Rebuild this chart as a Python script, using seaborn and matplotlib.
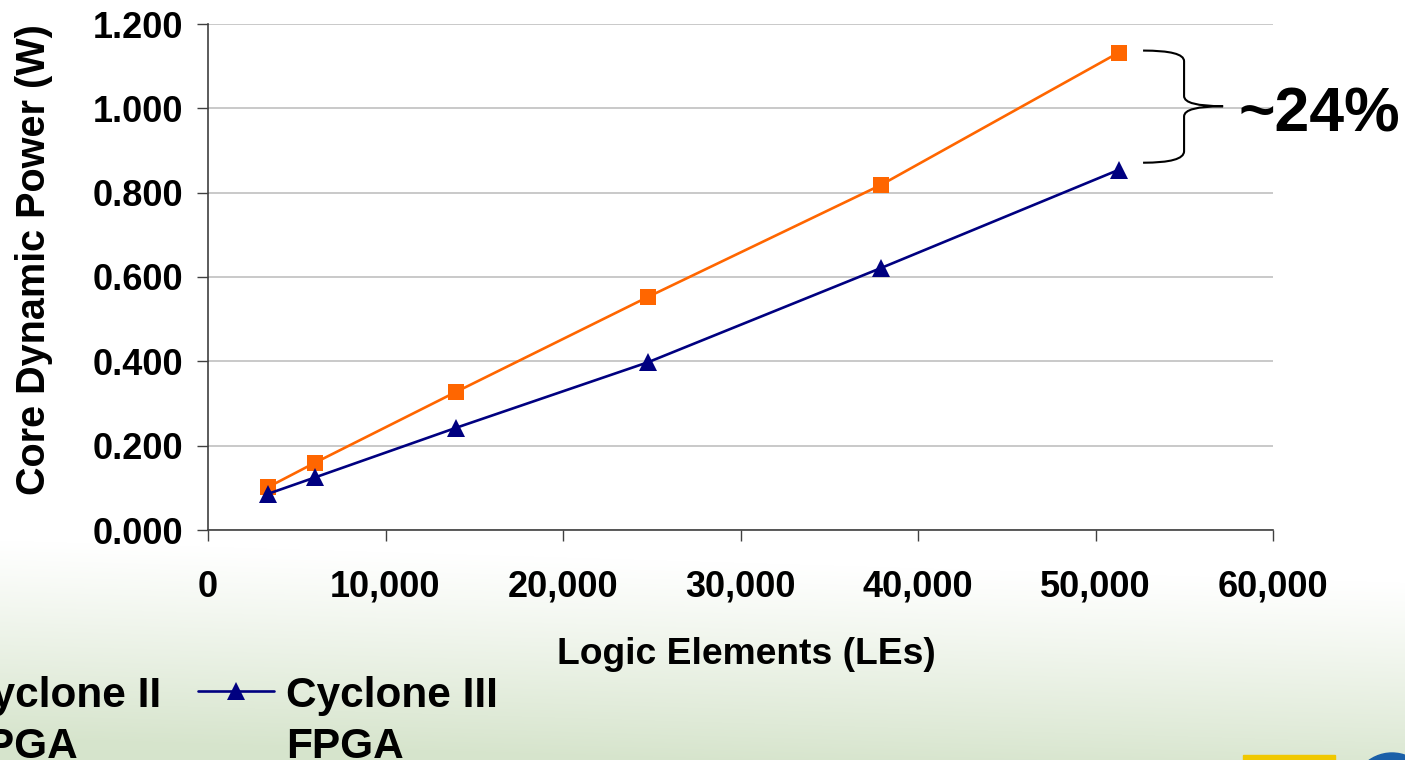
import numpy as np
import pandas as pd
import matplotlib
matplotlib.use("Agg")
import matplotlib.pyplot as plt
import seaborn as sns
from matplotlib.path import Path
from matplotlib.patches import PathPatch, Rectangle, Ellipse
from matplotlib.legend_handler import HandlerLine2D

# ---- data ----
logic_elements = [3400, 6050, 13950, 24800, 37900, 51300]
cyclone2_power = [0.102, 0.160, 0.327, 0.553, 0.818, 1.132]
cyclone3_power = [0.086, 0.125, 0.242, 0.398, 0.621, 0.854]
series_names = ["Cyclone II\nFPGA", "Cyclone III\nFPGA"]
x_ticks = [0, 10000, 20000, 30000, 40000, 50000, 60000]
y_ticks = [0.0, 0.2, 0.4, 0.6, 0.8, 1.0, 1.2]
annotation_text = "~24%"

sns.set_theme(style="white")
plt.rcParams["font.family"] = ["Liberation Sans", "DejaVu Sans"]
plt.rcParams["font.weight"] = "bold"
for k in ["text.color", "axes.labelcolor", "xtick.color", "ytick.color"]:
    plt.rcParams[k] = "black"

W, H = 1405, 760
fig = plt.figure(figsize=(W / 100, H / 100), dpi=100)

# background (slide gradient)
bg = fig.add_axes([0, 0, 1, 1], zorder=-10)
bg.set_xlim(0, W)
bg.set_ylim(H, 0)
bg.axis("off")
yy = np.arange(H)[:, None]
xx = np.arange(W)[None, :]
t = np.clip((yy - 540 - 0.03 * xx) / 200.0, 0, 1) ** 1.1
white = np.array([1.0, 1.0, 1.0])
green = np.array([0.84, 0.895, 0.80])
img = white[None, None, :] * (1 - t[..., None]) + green[None, None, :] * t[..., None]
img = np.broadcast_to(img, (H, W, 3))
bg.imshow(img, extent=[0, W, H, 0], aspect="auto")
bg.add_patch(Rectangle((1243, 755), 92, 8, color="#f0c800"))
bg.add_patch(Ellipse((1392, 798), 84, 90, color="#1a5fa8"))

# main axes
ax = fig.add_axes([208 / W, 1 - 530 / H, (1273 - 208) / W, (530 - 24) / H])
ax.set_facecolor("white")

df = pd.DataFrame({
    "LE": logic_elements * 2,
    "Power": cyclone2_power + cyclone3_power,
    "Series": [series_names[0]] * len(logic_elements) + [series_names[1]] * len(logic_elements),
})
palette = {series_names[0]: "#ff6600", series_names[1]: "#000080"}
markers = {series_names[0]: "s", series_names[1]: "^"}
sns.lineplot(data=df, x="LE", y="Power", hue="Series", style="Series",
             palette=palette, markers=markers, dashes=False, linewidth=1.9,
             markeredgewidth=0, ax=ax, legend=False, zorder=3)
lines = ax.get_lines()
for ln in lines:
    if ln.get_marker() == "s":
        ln.set_markersize(11.5)
    else:
        ln.set_markersize(13.5)
    ln.set_clip_on(False)

ax.set_xlim(0, 60000)
ax.set_ylim(0, 1.2)
ax.set_xticks(x_ticks)
ax.set_xticklabels([f"{v:,}" for v in x_ticks])
ax.set_yticks(y_ticks)
ax.set_yticklabels([f"{v:.3f}" for v in y_ticks])
ax.yaxis.grid(True, color="#c0c0c0", linewidth=1.2)
ax.xaxis.grid(False)
for s in ["top", "right"]:
    ax.spines[s].set_visible(False)
for s in ["left", "bottom"]:
    ax.spines[s].set_color("#404040")
    ax.spines[s].set_linewidth(1.2)
ax.tick_params(axis="y", direction="out", length=8, width=1, color="#404040",
               pad=10, labelsize=26, left=True, labelcolor="black")
ax.tick_params(axis="x", direction="out", length=8, width=1, color="#404040",
               pad=20.5, labelsize=26, bottom=True, labelcolor="black")
for lbl in ax.get_xticklabels() + ax.get_yticklabels():
    lbl.set_fontweight("bold")
ax.set_xlabel("Logic Elements (LEs)", fontsize=26.8, fontweight="bold",
              labelpad=23.5, color="black")
ax.xaxis.label.set_x(0.5056)
ax.set_ylabel("Core Dynamic Power (W)", fontsize=28.5, fontweight="bold",
              color="black")
ax.yaxis.set_label_coords(-0.146, 0.534)

# curly brace annotation
xa, xv, xt = 52680, 54990, 57190
verts = [(xa, 1.137), (xv, 1.137), (xv, 1.112),
         (xv, 1.029),
         (xv, 1.005), (xt, 1.005),
         (xv, 1.005), (xv, 0.981),
         (xv, 0.898),
         (xv, 0.871), (xa, 0.871)]
codes = [Path.MOVETO, Path.CURVE3, Path.CURVE3,
         Path.LINETO,
         Path.CURVE3, Path.CURVE3,
         Path.CURVE3, Path.CURVE3,
         Path.LINETO,
         Path.CURVE3, Path.CURVE3]
brace = PathPatch(Path(verts, codes), facecolor="none", edgecolor="black",
                  linewidth=1.5, clip_on=False, zorder=4)
ax.add_patch(brace)
ax.text(58030, 0.945, annotation_text, fontsize=45, fontweight="bold",
        ha="left", va="baseline", clip_on=False, color="black")


# legend handles aligned with the first text line
class FirstLineHandler(HandlerLine2D):
    def create_artists(self, legend, orig_handle, xdescent, ydescent,
                       width, height, fontsize, trans):
        arts = super().create_artists(legend, orig_handle, xdescent, ydescent,
                                      width, height, fontsize, trans)
        for a in arts:
            a.set_ydata(np.asarray(a.get_ydata(), dtype=float) + 22.5)
        return arts


leg = ax.legend(lines, series_names, loc="upper left",
                bbox_to_anchor=(-128 / W, 1 - 676 / H), bbox_transform=fig.transFigure,
                ncol=2, frameon=False, prop={"size": 30.5, "weight": "bold"},
                handlelength=1.8, handletextpad=0.29, columnspacing=0.88,
                borderpad=0, borderaxespad=0,
                handler_map={ln: FirstLineHandler() for ln in lines})
for txt in leg.get_texts():
    txt.set_linespacing(1.36)
    txt.set_color("black")

fig.savefig("out.png", dpi=100)
